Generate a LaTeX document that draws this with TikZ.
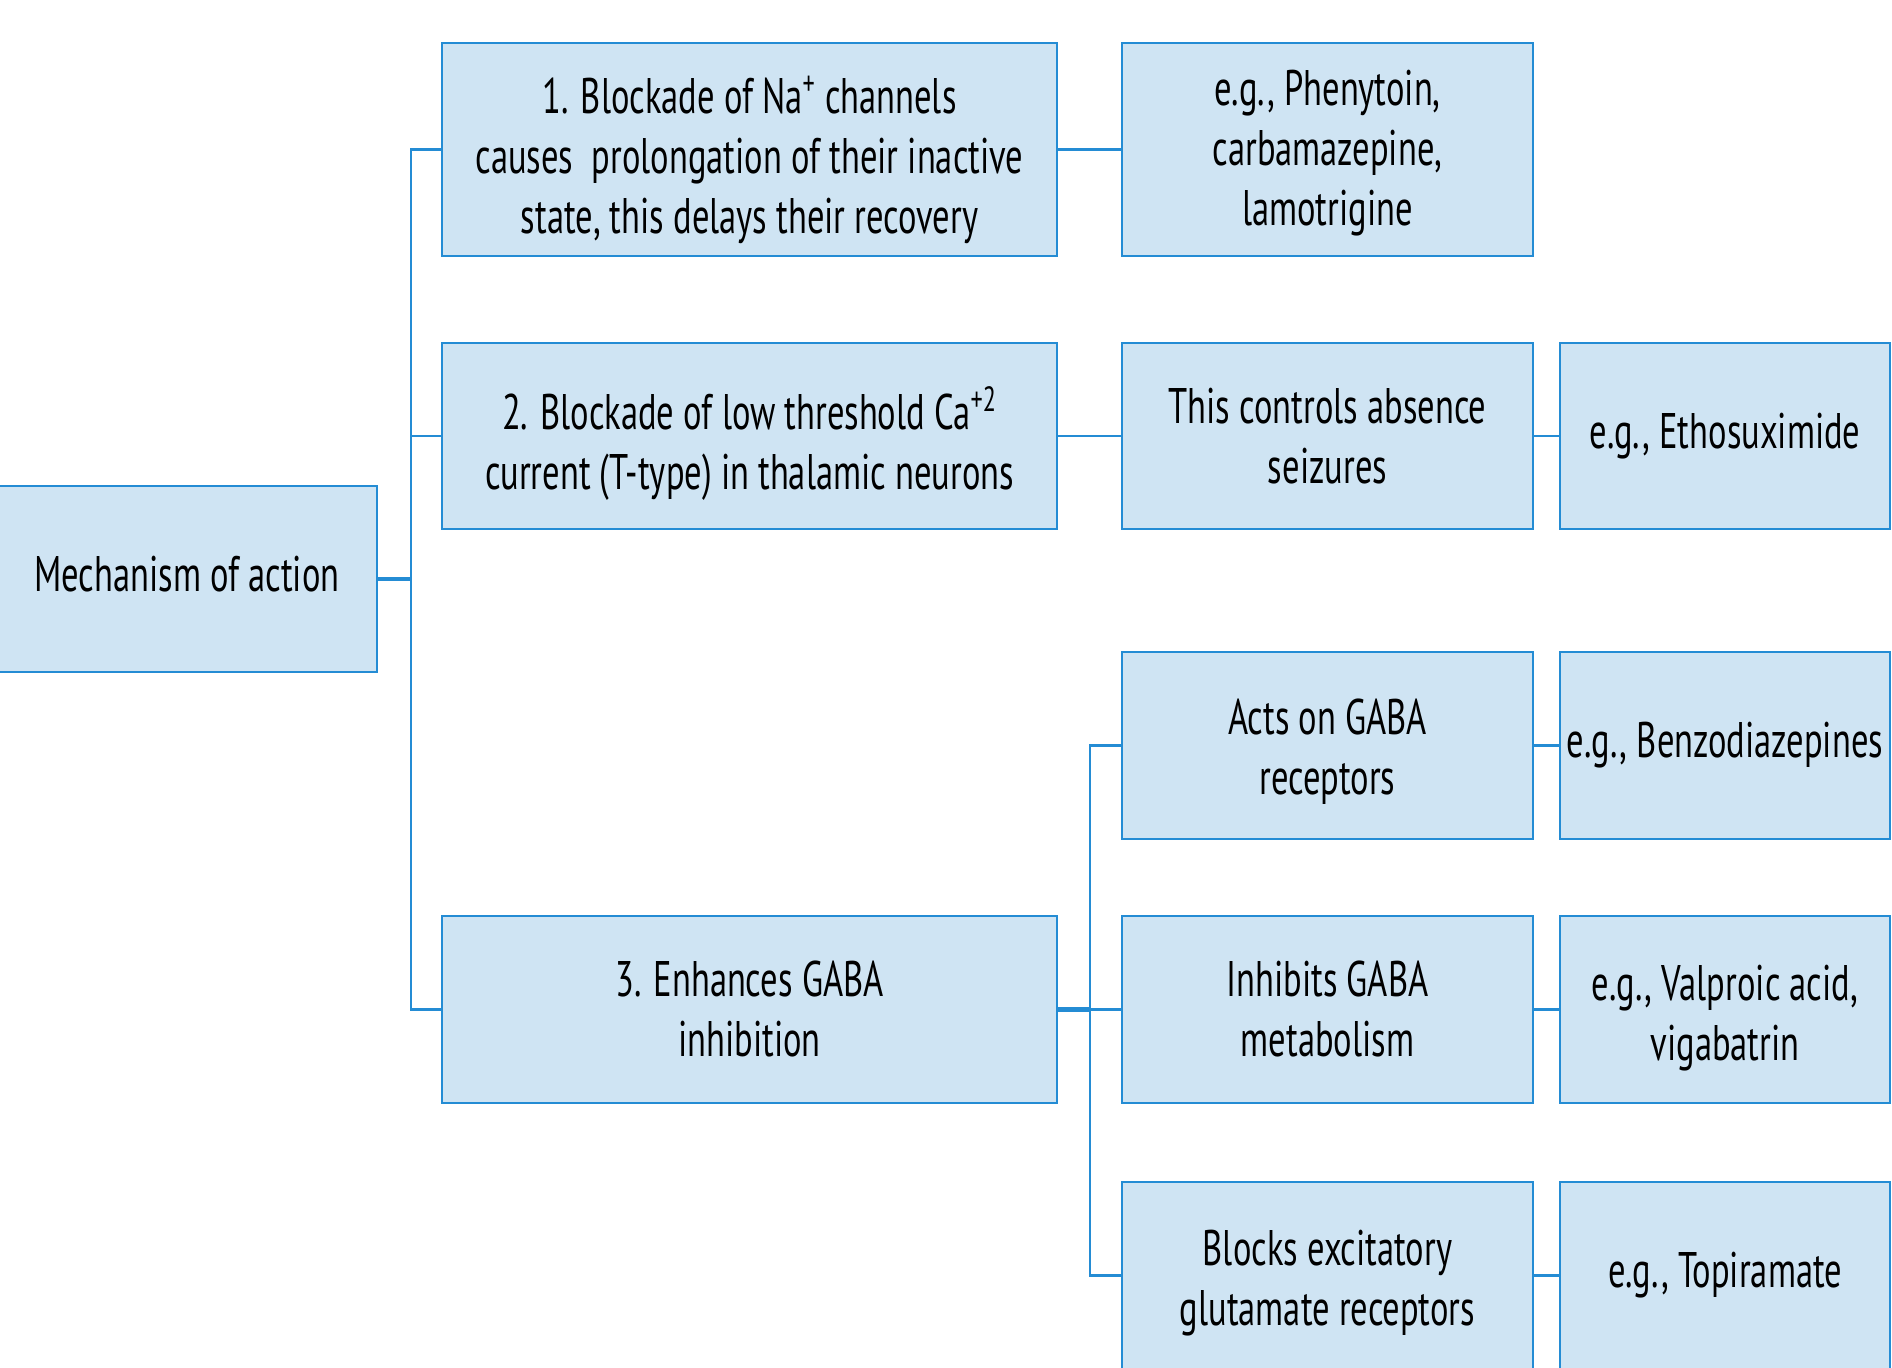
\documentclass[tikz,border=0pt]{standalone}
\usepackage{fontspec}
\setmainfont[FakeStretch=0.69]{PT Sans}
\definecolor{boxfill}{RGB}{207,228,243}
\definecolor{boxline}{RGB}{36,140,212}
\newcommand{\supsm}[1]{\smash{\textsuperscript{#1}}}
% invisible struts that set the height of a first line
\newcommand{\tallline}[1]{\rule{0pt}{#1}}
\newcommand{\deepline}[1]{\rule[-#1]{0pt}{#1}}
\begin{document}
\begin{tikzpicture}[x=0.5pt,y=-0.5pt,
  box/.style={draw=boxline, fill=boxfill, line width=1.4pt, rectangle,
    inner sep=0pt, align=center, font=\fontsize{25}{30}\selectfont},
  link/.style={draw=boxline, line width=1.4pt},
  mainlink/.style={draw=boxline, line width=2.4pt}]
\useasboundingbox (0,0) rectangle (1892,1368);

% root
\node[box, minimum width=190pt, minimum height=93pt] (mech) at (187,579) {Mechanism of action\deepline{5pt}};

% first level
\node[box, minimum width=307.5pt, minimum height=106.5pt] (b1) at (749.5,149.5)
  {\tallline{29pt}1. Blockade of Na\supsm{+} channels\\causes\ \ prolongation of their inactive\\state, this delays their recovery};
\node[box, minimum width=307.5pt, minimum height=93pt] (b2) at (749.5,436)
  {\tallline{29pt}2. Blockade of low threshold Ca\supsm{+2}\\current (T-type) in thalamic neurons};
\node[box, minimum width=307.5pt, minimum height=93.5pt] (b3) at (749.5,1009.5)
  {3. Enhances GABA\\inhibition};

% second level
\node[box, minimum width=205.5pt, minimum height=106.5pt] (e1) at (1327.5,149.5)
  {\tallline{21pt}e.g., Phenytoin,\\carbamazepine,\\lamotrigine};
\node[box, minimum width=205.5pt, minimum height=93pt] (c2) at (1327.5,436)
  {This controls absence\\seizures};
\node[box, minimum width=205.5pt, minimum height=93.5pt] (g1) at (1327.5,745.5)
  {\tallline{24pt}Acts on GABA\\receptors};
\node[box, minimum width=205.5pt, minimum height=93.5pt] (g2) at (1327.5,1009.5)
  {Inhibits GABA\\metabolism};
\node[box, minimum width=205.5pt, minimum height=93.5pt] (g3) at (1327.5,1275.5)
  {\tallline{25pt}Blocks excitatory\\glutamate receptors};

% examples
\node[box, minimum width=165pt, minimum height=93pt] (e2) at (1725,436)
  {e.g., Ethosuximide};
\node[box, minimum width=165pt, minimum height=93.5pt] (g1e) at (1725,745.5)
  {e.g., Benzodiazepines};
\node[box, minimum width=165pt, minimum height=93.5pt] (g2e) at (1725,1009.5)
  {\tallline{26pt}e.g., Valproic acid,\\vigabatrin};
\node[box, minimum width=165pt, minimum height=93.5pt] (g3e) at (1725,1275.5)
  {e.g., Topiramate};

% junctions
\coordinate (j1) at (411,579);
\coordinate (j2) at (1090,1009.5);

% connectors
\draw[mainlink] (mech.east) -- (j1);
\draw[link] (b1.west) -| (j1) |- (b3.west);
\draw[link] (b2.west) -- (b2.west -| j1);
\draw[link] (b1.east) -- (e1.west);
\draw[link] (b2.east) -- (c2.west);
\draw[link] (c2.east) -- (e2.west);
\draw[mainlink] (b3.east) -- (j2);
\draw[link] (g1.west) -| (j2) |- (g3.west);
\draw[link] (g2.west) -- (j2);
\draw[link] (g1.east) -- (g1e.west);
\draw[link] (g2.east) -- (g2e.west);
\draw[link] (g3.east) -- (g3e.west);
\end{tikzpicture}
\end{document}
